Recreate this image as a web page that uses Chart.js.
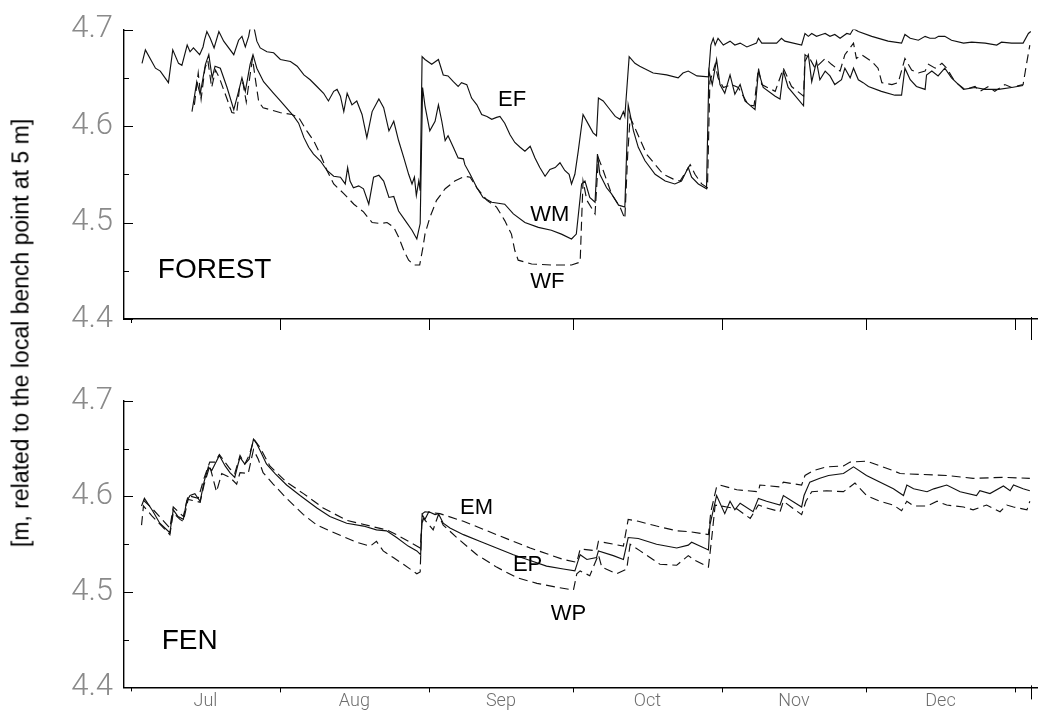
<!DOCTYPE html>
<html>
<head>
<meta charset="utf-8">
<title>Water table, forest and fen</title>
<script src="https://cdn.jsdelivr.net/npm/chart.js@4/dist/chart.umd.min.js"></script>
<style>
  html, body { margin: 0; padding: 0; background: #fff; }
  #wrap { position: relative; width: 1038px; height: 717px; overflow: hidden; background: #fff; }
  #wrap canvas { position: absolute; left: 0; }
  #forest { top: 0; }
  #fen { top: 359px; }
  #ytitle {
    position: absolute; left: 21px; top: 333px;
    transform: translate(-50%, -50%) rotate(-90deg);
    white-space: nowrap;
    font-family: "Liberation Sans", Arial, sans-serif;
    font-size: 23px; color: #000;
  }
</style>
</head>
<body>
<div id="wrap">
  <canvas id="forest" width="1038" height="358"></canvas>
  <canvas id="fen" width="1038" height="358"></canvas>
  <div id="ytitle">[m, related to the local bench point at 5 m]</div>
</div>
<script>
// Days are counted from 1 July; levels in metres.
const MONTHS = ['Jul', 'Aug', 'Sep', 'Oct', 'Nov', 'Dec'];
const MONTH_START = [0, 31, 62, 92, 123, 153, 184];
const Y_TICKS = [4.4, 4.5, 4.6, 4.7];
const Y_MINOR = [4.45, 4.55, 4.65];

// ---- FOREST wells ----
const EF = [[2.3,4.665],[3.0,4.679],[5.1,4.660],[6.1,4.657],[7.8,4.645],[8.7,4.679],[9.9,4.665],[10.6,4.663],[11.7,4.684],[12.3,4.677],[13.0,4.681],[14.3,4.674],[15.0,4.682],[15.3,4.689],[15.8,4.698],[16.5,4.691],[17.3,4.681],[18.3,4.698],[19.3,4.688],[21.4,4.674],[22.4,4.689],[23.1,4.693],[23.8,4.682],[24.5,4.693],[25.2,4.712],[26.2,4.688],[26.9,4.681],[28.3,4.677],[29.7,4.676],[31.1,4.669],[33.2,4.667],[34.6,4.662],[36.0,4.653],[37.3,4.648],[38.7,4.641],[40.1,4.634],[41.1,4.626],[42.2,4.636],[42.9,4.638],[43.6,4.631],[44.3,4.615],[45.0,4.634],[46.0,4.622],[47.0,4.626],[48.1,4.612],[49.1,4.588],[50.2,4.615],[51.6,4.628],[52.6,4.619],[53.7,4.595],[54.7,4.605],[55.7,4.585],[56.8,4.567],[57.8,4.550],[58.5,4.540],[59.0,4.547],[59.4,4.528],[59.9,4.543],[60.2,4.533],[60.6,4.672],[61.2,4.669],[62.6,4.664],[64.0,4.669],[65.0,4.653],[66.0,4.652],[67.1,4.646],[68.1,4.641],[68.8,4.645],[69.9,4.643],[70.9,4.629],[72.0,4.622],[73.0,4.612],[74.1,4.610],[75.1,4.607],[76.1,4.609],[76.8,4.610],[77.8,4.603],[78.9,4.591],[79.9,4.583],[81.0,4.578],[82.0,4.574],[83.1,4.579],[84.1,4.567],[85.1,4.557],[86.2,4.548],[87.2,4.555],[88.3,4.557],[89.3,4.562],[90.3,4.554],[91.2,4.550],[91.7,4.540],[92.4,4.550],[93.1,4.574],[94.1,4.612],[95.2,4.602],[96.2,4.593],[96.9,4.590],[97.3,4.629],[98.3,4.626],[99.4,4.619],[100.8,4.610],[101.8,4.607],[102.5,4.615],[102.8,4.610],[103.7,4.672],[104.9,4.665],[105.9,4.662],[108.7,4.655],[111.5,4.653],[113.9,4.650],[114.9,4.655],[116.0,4.657],[117.8,4.652],[120.2,4.651],[120.7,4.684],[121.2,4.691],[121.6,4.684],[122.2,4.691],[123.3,4.684],[124.7,4.688],[125.7,4.684],[126.8,4.686],[128.2,4.682],[130.2,4.686],[130.6,4.691],[131.3,4.686],[134.4,4.686],[135.4,4.691],[136.1,4.688],[139.6,4.684],[140.3,4.696],[141.0,4.693],[141.7,4.696],[142.7,4.693],[143.8,4.695],[144.5,4.696],[145.5,4.693],[146.5,4.695],[147.6,4.691],[149.0,4.696],[149.7,4.695],[150.4,4.701],[151.4,4.698],[154.2,4.693],[157.6,4.688],[160.4,4.686],[161.1,4.695],[162.2,4.691],[163.9,4.689],[165.3,4.693],[166.3,4.691],[167.4,4.691],[168.1,4.693],[169.4,4.693],[170.8,4.689],[173.3,4.686],[175.0,4.687],[177.8,4.686],[180.2,4.684],[181.2,4.687],[183.3,4.686],[185.7,4.686],[186.8,4.696],[187.3,4.698]];

const WM = [[12.7,4.615],[13.7,4.646],[14.4,4.633],[15.5,4.664],[16.2,4.674],[16.9,4.650],[17.5,4.662],[18.6,4.660],[20.0,4.640],[21.4,4.617],[22.4,4.636],[23.1,4.650],[23.8,4.636],[24.8,4.664],[25.4,4.674],[26.2,4.660],[27.6,4.646],[29.7,4.634],[31.1,4.626],[33.9,4.610],[34.9,4.603],[36.0,4.588],[37.0,4.578],[38.0,4.571],[39.4,4.564],[40.8,4.554],[42.2,4.548],[43.6,4.547],[44.6,4.540],[45.1,4.557],[45.6,4.543],[46.3,4.536],[47.4,4.538],[48.4,4.535],[49.5,4.519],[50.5,4.547],[51.6,4.549],[52.6,4.543],[53.7,4.526],[54.7,4.527],[55.7,4.512],[57.1,4.502],[58.5,4.492],[59.5,4.483],[60.2,4.499],[60.7,4.640],[61.2,4.621],[62.2,4.595],[63.3,4.605],[64.0,4.622],[64.7,4.605],[65.4,4.585],[66.0,4.590],[67.1,4.578],[68.1,4.567],[69.2,4.566],[69.5,4.560],[70.6,4.550],[72.0,4.536],[73.3,4.526],[75.1,4.521],[77.8,4.519],[79.6,4.509],[82.0,4.500],[84.8,4.495],[87.5,4.492],[89.6,4.488],[91.7,4.483],[92.7,4.488],[93.8,4.540],[94.5,4.543],[95.5,4.526],[96.6,4.521],[97.1,4.571],[97.6,4.550],[99.0,4.536],[100.0,4.530],[101.5,4.518],[102.8,4.516],[103.5,4.622],[104.6,4.595],[105.6,4.578],[107.0,4.564],[109.1,4.550],[111.2,4.543],[113.2,4.540],[114.6,4.543],[116.0,4.557],[116.7,4.547],[118.1,4.540],[119.8,4.535],[120.3,4.657],[121.0,4.643],[121.9,4.669],[122.6,4.643],[123.6,4.634],[124.7,4.653],[125.7,4.633],[126.8,4.643],[127.8,4.626],[129.9,4.617],[130.6,4.657],[131.6,4.640],[134.1,4.631],[135.1,4.628],[135.8,4.657],[136.8,4.640],[140.0,4.621],[140.3,4.667],[141.0,4.674],[141.7,4.646],[142.7,4.667],[143.4,4.648],[144.5,4.657],[145.5,4.652],[146.5,4.643],[147.9,4.648],[148.6,4.660],[149.7,4.650],[150.4,4.660],[151.4,4.648],[152.4,4.645],[153.5,4.641],[156.2,4.636],[159.0,4.632],[160.4,4.632],[161.1,4.660],[162.2,4.648],[163.5,4.641],[165.3,4.638],[165.6,4.653],[166.7,4.657],[168.0,4.652],[169.4,4.660],[170.8,4.650],[173.3,4.638],[175.7,4.640],[177.8,4.638],[180.6,4.638],[183.3,4.640],[185.7,4.642]];

const WF = [[13.2,4.622],[14.0,4.655],[14.6,4.628],[15.4,4.660],[16.0,4.668],[16.8,4.640],[17.6,4.658],[18.4,4.650],[20.0,4.628],[21.0,4.614],[22.0,4.613],[22.6,4.640],[23.3,4.645],[24.0,4.625],[25.0,4.660],[25.3,4.670],[26.0,4.645],[26.6,4.625],[27.5,4.619],[29.0,4.617],[31.0,4.614],[33.5,4.612],[34.9,4.609],[36.6,4.595],[38.0,4.585],[39.4,4.571],[40.8,4.554],[42.2,4.540],[44.3,4.530],[46.4,4.519],[48.4,4.511],[50.2,4.500],[51.9,4.499],[53.3,4.500],[54.7,4.495],[55.7,4.485],[56.8,4.471],[57.8,4.461],[58.9,4.456],[60.1,4.456],[60.8,4.475],[61.2,4.488],[62.2,4.505],[63.6,4.523],[65.4,4.535],[67.4,4.543],[69.5,4.548],[70.6,4.547],[72.0,4.536],[74.1,4.523],[76.1,4.516],[77.8,4.502],[79.2,4.488],[79.9,4.471],[80.6,4.461],[83.4,4.457],[87.5,4.456],[91.7,4.456],[93.5,4.459],[93.8,4.502],[94.1,4.543],[94.9,4.523],[96.6,4.509],[97.3,4.567],[98.3,4.554],[100.0,4.530],[101.8,4.516],[102.8,4.504],[103.4,4.571],[103.9,4.609],[104.9,4.598],[107.3,4.571],[110.8,4.550],[112.9,4.545],[114.3,4.543],[116.4,4.560],[117.4,4.550],[118.8,4.540],[120.0,4.536],[120.5,4.646],[121.6,4.664],[122.2,4.650],[123.3,4.640],[125.0,4.643],[126.4,4.640],[128.5,4.622],[129.7,4.621],[130.6,4.660],[131.3,4.643],[134.1,4.636],[135.8,4.660],[137.5,4.641],[140.0,4.631],[140.3,4.674],[141.3,4.670],[142.4,4.660],[144.5,4.670],[145.8,4.664],[147.6,4.657],[148.6,4.674],[150.4,4.686],[151.0,4.670],[152.1,4.674],[154.2,4.667],[155.5,4.660],[156.3,4.645],[158.4,4.643],[159.7,4.645],[161.1,4.670],[162.5,4.658],[163.9,4.655],[165.3,4.657],[166.0,4.664],[167.4,4.660],[168.8,4.665],[169.8,4.660],[171.5,4.646],[173.6,4.638],[175.7,4.641],[176.7,4.636],[178.5,4.641],[179.8,4.636],[181.9,4.643],[183.3,4.640],[185.7,4.643],[186.4,4.664],[187.1,4.684]];

// ---- FEN wells ----
const EM = [[2.6,4.596],[4.3,4.588],[8.1,4.567],[8.8,4.589],[10.9,4.579],[11.9,4.601],[14.0,4.598],[15.2,4.619],[16.4,4.636],[17.5,4.636],[18.4,4.644],[20.6,4.629],[21.6,4.624],[22.7,4.643],[23.7,4.634],[24.6,4.643],[25.6,4.660],[26.9,4.651],[28.9,4.632],[32.4,4.615],[35.9,4.603],[40.0,4.588],[44.9,4.575],[49.8,4.569],[53.2,4.565],[55.3,4.560],[58.1,4.552],[60.2,4.546],[60.7,4.582],[61.2,4.584],[64.3,4.582],[69.2,4.574],[76.1,4.560],[83.1,4.546],[90.0,4.534],[92.8,4.531],[93.5,4.545],[96.9,4.543],[97.3,4.553],[102.5,4.548],[103.5,4.576],[105.6,4.574],[109.4,4.569],[113.6,4.564],[116.4,4.563],[120.2,4.560],[120.7,4.584],[121.9,4.610],[122.6,4.612],[126.1,4.607],[130.6,4.605],[130.9,4.612],[135.1,4.610],[135.8,4.615],[139.6,4.612],[140.3,4.622],[142.0,4.627],[144.8,4.631],[148.3,4.632],[149.7,4.636],[153.1,4.637],[158.7,4.627],[160.1,4.624],[169.8,4.622],[175.3,4.619],[181.6,4.620],[187.1,4.619]];

const EP = [[2.2,4.590],[2.8,4.598],[4.5,4.585],[6.0,4.572],[8.1,4.562],[8.8,4.586],[9.8,4.579],[10.9,4.576],[11.6,4.595],[12.3,4.601],[13.3,4.603],[14.4,4.595],[15.2,4.615],[16.1,4.631],[16.8,4.627],[17.5,4.634],[18.4,4.643],[19.6,4.632],[20.6,4.625],[21.6,4.620],[22.3,4.634],[22.7,4.641],[23.7,4.634],[24.6,4.639],[25.5,4.660],[26.2,4.655],[26.9,4.648],[28.2,4.634],[30.0,4.624],[32.4,4.612],[35.2,4.601],[38.7,4.588],[41.4,4.579],[44.9,4.572],[48.4,4.569],[51.1,4.565],[53.2,4.564],[55.3,4.557],[57.7,4.548],[59.5,4.543],[60.3,4.539],[60.6,4.581],[61.2,4.576],[62.0,4.584],[63.3,4.581],[64.0,4.582],[65.0,4.572],[66.4,4.567],[69.2,4.560],[72.6,4.553],[76.1,4.546],[79.6,4.539],[83.1,4.533],[86.5,4.527],[90.0,4.524],[92.4,4.522],[93.1,4.533],[93.5,4.539],[94.9,4.534],[96.9,4.536],[97.3,4.543],[100.4,4.538],[102.5,4.534],[103.5,4.557],[105.6,4.556],[109.4,4.550],[113.6,4.546],[116.0,4.549],[116.7,4.552],[120.2,4.544],[120.5,4.570],[121.9,4.601],[123.6,4.582],[124.7,4.595],[125.7,4.586],[126.8,4.593],[129.5,4.584],[130.6,4.598],[132.3,4.595],[135.1,4.591],[135.8,4.601],[139.6,4.589],[140.1,4.601],[141.3,4.615],[143.4,4.619],[145.2,4.622],[148.3,4.624],[150.4,4.631],[153.1,4.622],[158.7,4.608],[160.8,4.601],[161.5,4.612],[162.9,4.608],[165.7,4.605],[167.1,4.608],[169.8,4.612],[172.6,4.605],[176.0,4.601],[176.7,4.606],[178.8,4.603],[181.6,4.611],[183.0,4.606],[183.7,4.612],[185.7,4.608],[187.1,4.606]];

const WP = [[2.2,4.570],[2.6,4.590],[4.3,4.580],[8.1,4.560],[8.8,4.583],[10.2,4.576],[10.9,4.574],[11.9,4.597],[14.4,4.594],[15.2,4.612],[16.4,4.632],[17.8,4.605],[18.9,4.624],[20.6,4.620],[22.0,4.613],[22.7,4.625],[24.4,4.624],[25.5,4.649],[26.5,4.639],[27.5,4.625],[29.6,4.613],[32.4,4.598],[35.9,4.581],[38.7,4.570],[41.4,4.564],[44.2,4.558],[47.0,4.552],[49.8,4.548],[51.1,4.553],[52.5,4.543],[54.6,4.536],[56.7,4.529],[59.5,4.519],[60.2,4.521],[60.5,4.570],[60.9,4.577],[62.9,4.565],[64.0,4.581],[65.0,4.570],[67.8,4.557],[72.0,4.539],[76.1,4.526],[80.3,4.515],[84.5,4.509],[88.6,4.505],[92.1,4.502],[92.8,4.519],[93.5,4.522],[95.5,4.517],[97.3,4.539],[98.0,4.526],[101.1,4.519],[103.2,4.524],[103.9,4.550],[106.0,4.543],[110.1,4.529],[113.6,4.528],[116.0,4.538],[117.4,4.533],[120.2,4.526],[120.9,4.557],[121.6,4.591],[124.0,4.589],[126.1,4.587],[128.9,4.577],[130.6,4.591],[132.3,4.588],[135.1,4.584],[135.8,4.595],[139.6,4.581],[140.5,4.595],[141.7,4.605],[144.8,4.606],[148.3,4.605],[150.7,4.614],[153.1,4.601],[155.9,4.595],[158.7,4.591],[160.4,4.585],[161.5,4.595],[162.9,4.590],[165.7,4.590],[167.8,4.595],[169.8,4.591],[173.3,4.589],[175.3,4.586],[178.1,4.591],[180.9,4.584],[182.3,4.591],[183.7,4.589],[186.5,4.586],[187.1,4.595]];

// ---- drawing ----
const X_MIN = -1.45, X_MAX = 188.8;
const INK = '#111';
const DASH = [9, 5];

const asPoints = arr => arr.map(([x, y]) => ({ x, y }));

// inward y ticks, outward month ticks and the closing tick at the right
const axisMarks = {
  id: 'axisMarks',
  afterDraw(chart, args, o) {
    const { ctx } = chart;
    const xs = chart.scales.x, ys = chart.scales.y;
    const left = xs.left, base = ys.bottom;
    ctx.save();
    ctx.strokeStyle = '#000';
    ctx.lineWidth = 1;
    const seg = (x1, y1, x2, y2) => { ctx.beginPath(); ctx.moveTo(x1, y1); ctx.lineTo(x2, y2); ctx.stroke(); };
    Y_TICKS.forEach(v => { const p = Math.round(ys.getPixelForValue(v)) + 0.5; seg(left, p, left + 9, p); });
    Y_MINOR.forEach(v => { const p = Math.round(ys.getPixelForValue(v)) + 0.5; seg(left, p, left + 5, p); });
    MONTH_START.forEach((d, i) => {
      const p = Math.round(xs.getPixelForValue(d)) + 0.5;
      seg(p, base, p, base + (i === 0 ? 4 : o.tick));
    });
    const e = Math.round(xs.getPixelForValue(o.endDay)) + 0.5;
    seg(e, base - 2, e, base + o.endTick);
    ctx.restore();
  }
};

// panel and well names
const wellNames = {
  id: 'wellNames',
  afterDatasetsDraw(chart, args, o) {
    const { ctx } = chart;
    const xs = chart.scales.x, ys = chart.scales.y;
    ctx.save();
    ctx.fillStyle = '#000';
    ctx.textBaseline = 'alphabetic';
    o.items.forEach(it => {
      ctx.font = it.size + 'px "Liberation Sans", Arial, sans-serif';
      ctx.fillText(it.text, xs.getPixelForValue(it.day), ys.getPixelForValue(it.level));
    });
    ctx.restore();
  }
};

function line(data, dashed) {
  return {
    data: asPoints(data),
    borderColor: INK,
    borderWidth: 1.15,
    borderDash: dashed ? DASH : [],
    pointRadius: 0,
    tension: 0,
    fill: false
  };
}

function panel(id, datasets, cfg) {
  const monthMids = MONTHS.map((m, i) => (MONTH_START[i] + MONTH_START[i + 1]) / 2);
  return new Chart(document.getElementById(id), {
    type: 'line',
    data: { datasets },
    plugins: [axisMarks, wellNames],
    options: {
      responsive: false,
      animation: false,
      events: [],
      layout: { padding: { top: cfg.top, left: 0, right: 0, bottom: 0 } },
      plugins: {
        legend: { display: false },
        tooltip: { enabled: false },
        axisMarks: { tick: cfg.tick, endTick: cfg.endTick, endDay: 187.3 },
        wellNames: { items: cfg.names }
      },
      scales: {
        x: {
          type: 'linear', min: X_MIN, max: X_MAX,
          grid: { display: false, drawTicks: false },
          border: { display: true, color: '#000', width: 1.4 },
          afterBuildTicks: s => { s.ticks = monthMids.map(v => ({ value: v })); },
          afterFit: s => { s.height = cfg.xHeight; },
          ticks: {
            display: cfg.showMonths,
            autoSkip: false, maxRotation: 0, padding: 3,
            color: '#6e6e6e',
            font: { family: 'Roboto', size: 18, weight: 300 },
            callback: (v, i) => MONTHS[i]
          }
        },
        y: {
          min: 4.4, max: 4.7,
          grid: { display: false, drawTicks: false },
          border: { display: true, color: '#000', width: 1.4 },
          afterBuildTicks: s => { s.ticks = Y_TICKS.map(v => ({ value: v })); },
          afterFit: s => { s.width = 124; },
          ticks: {
            autoSkip: false, padding: 11,
            color: '#8a8a8a',
            font: { family: 'Roboto', size: 31, weight: 300 },
            callback: v => v.toFixed(1)
          }
        }
      }
    }
  });
}

function build() {
  panel('forest', [line(EF, false), line(WM, false), line(WF, true)], {
    top: 28, xHeight: 39, tick: 11, endTick: 21, showMonths: false,
    names: [
      { text: 'FOREST', day: 5.6, level: 4.442, size: 28 },
      { text: 'EF', day: 76.4, level: 4.621, size: 22 },
      { text: 'WM', day: 83.1, level: 4.502, size: 22 },
      { text: 'WF', day: 83.1, level: 4.432, size: 22 }
    ]
  });
  panel('fen', [line(EM, true), line(EP, false), line(WP, true)], {
    top: 42, xHeight: 25, tick: 5, endTick: 12, showMonths: true,
    names: [
      { text: 'FEN', day: 6.4, level: 4.440, size: 28 },
      { text: 'EM', day: 68.5, level: 4.582, size: 22 },
      { text: 'EP', day: 79.5, level: 4.522, size: 22 },
      { text: 'WP', day: 87.4, level: 4.471, size: 22 }
    ]
  });
}

if (document.fonts && document.fonts.load) {
  Promise.all([
    document.fonts.load('300 31px Roboto'),
    document.fonts.load('22px "Liberation Sans"')
  ]).then(build, build);
} else {
  build();
}
</script>
</body>
</html>
